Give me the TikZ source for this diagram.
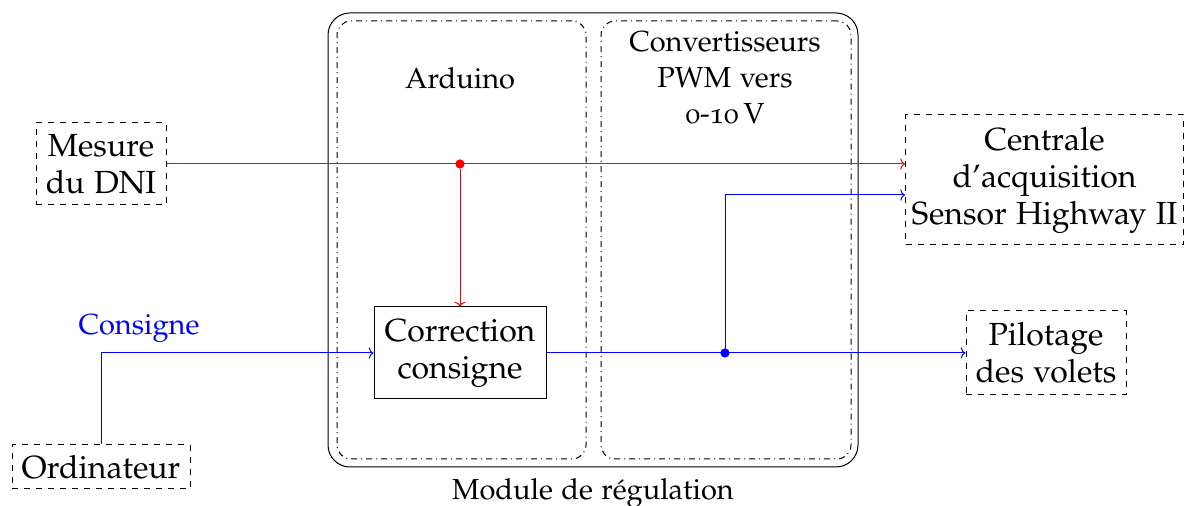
\documentclass[tikz,border=0pt]{standalone}
\usepackage[T1]{fontenc}
\usepackage[osf]{mathpazo}
\usetikzlibrary{arrows.meta}
\begin{document}
\begin{tikzpicture}[x=0.5pt,y=-0.5pt,line width=0.5pt,
  bigtxt/.style={font=\fontsize{16}{18.5}\selectfont,align=center},
  smalltxt/.style={font=\fontsize{14.5}{18}\selectfont,align=center},
  dbox/.style={draw,dashed,bigtxt,inner sep=0pt},
  sbox/.style={draw,bigtxt,inner sep=0pt},
  part/.style={draw,dash dot,rounded corners=7pt,minimum height=219pt},
  dotn/.style={circle,fill,inner sep=0pt,minimum size=4.6pt},
  sig/.style={-{To[length=2.4pt,width=5.6pt]}}]
\useasboundingbox (0,0) rectangle (1185,506);

% module containers
\node[draw,rounded corners=11pt,minimum width=265pt,minimum height=227pt,inner sep=0pt] (module) at (593,240) {};
\node[part,minimum width=124.5pt] (ard) at (461.5,240) {};
\node[part,minimum width=125pt] (conv) at (726,240) {};
\node[smalltxt,anchor=base] (ardl) at (460,89) {Arduino};
\node[smalltxt] (convl) at (725,78) {Convertisseurs\\PWM vers\\0-10\,V};
\node[smalltxt,anchor=base] (modl) at (593,500) {Module de r\'egulation};

% blocks
\node[dbox,minimum width=65pt,minimum height=41pt] (mesure) at (101,164) {Mesure\\du DNI};
\node[dbox,minimum width=89pt,minimum height=22pt] (ordi) at (101,467) {Ordinateur};
\node[sbox,minimum width=86pt,minimum height=46pt] (corr) at (460,353) {Correction\\consigne};
\node[dbox,minimum width=139pt,minimum height=65pt] (centrale) at (1044.5,180) {Centrale\\d'acquisition\\Sensor Highway II};
\node[dbox,minimum width=80pt,minimum height=42pt] (pilot) at (1046,353) {Pilotage\\des volets};
\node[smalltxt,blue,anchor=base] (consl) at (139,335) {Consigne};

% junction dots
\node[dotn,red] (dr) at (460,164) {};
\node[dotn,blue] (db) at (725,353) {};
\coordinate (cr) at ([yshift=8pt]centrale.west);
\coordinate (cb) at ([yshift=-7.5pt]centrale.west);

% connectors
\draw[sig,red] (mesure.east |- cr) -- (cr);
\draw[sig,red] (dr) -- (corr.north);
\draw[sig,blue] (ordi.north) |- (corr.west);
\draw[sig,blue] (corr.east) -- (pilot.west);
\draw[sig,blue] (db.center) |- (cb);
\end{tikzpicture}
\end{document}
